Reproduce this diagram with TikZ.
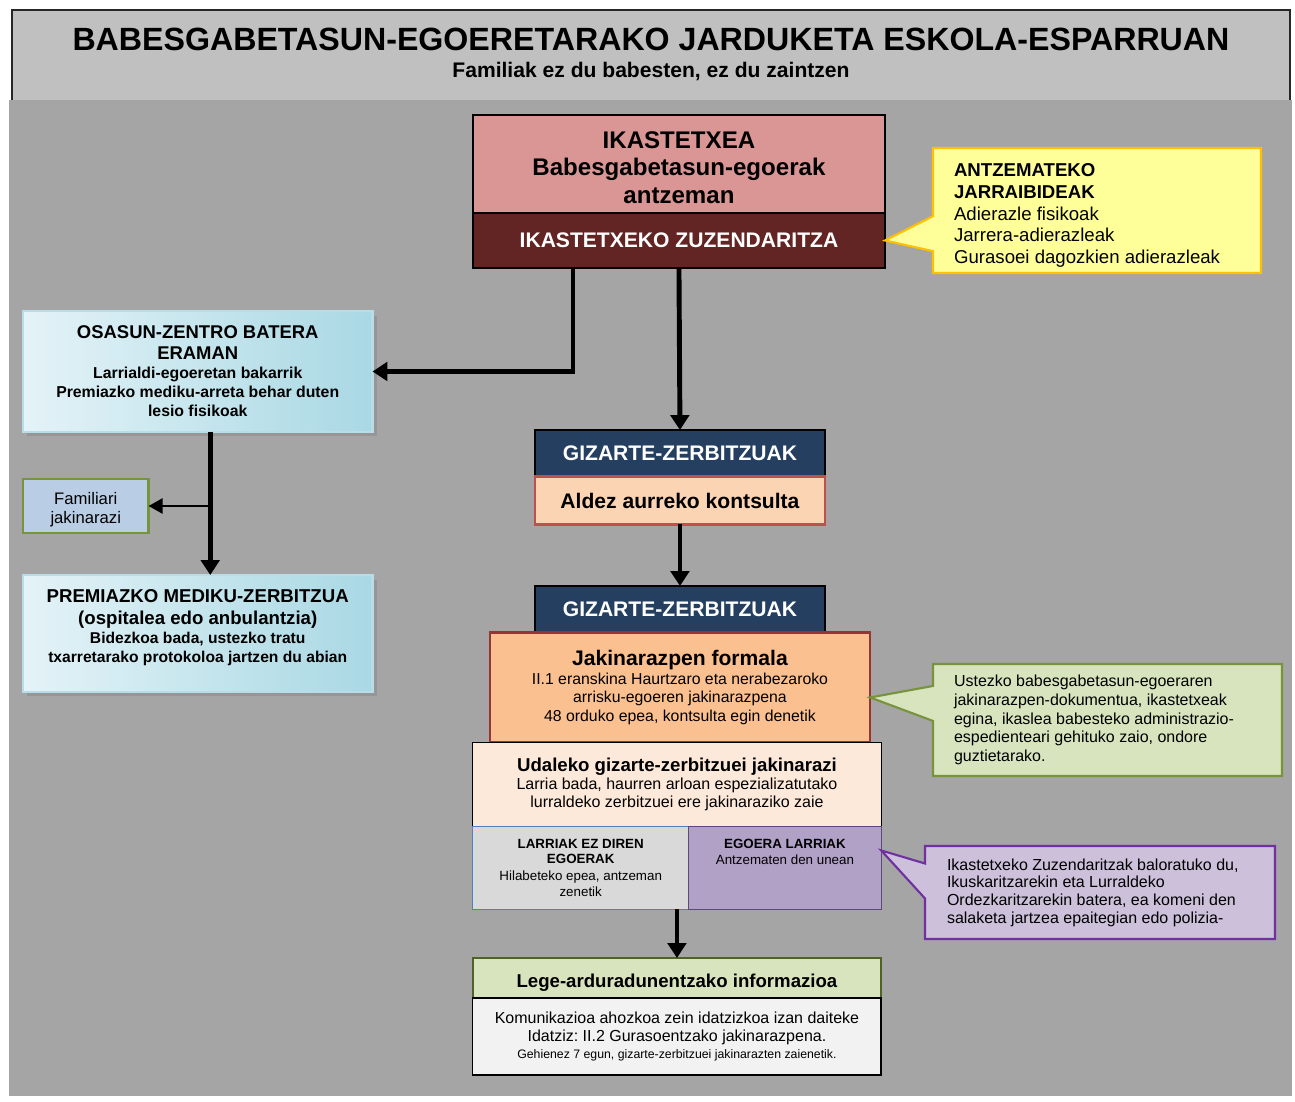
\documentclass[tikz,border=0pt]{standalone}
\usepackage{fontspec}
\setmainfont{Liberation Sans}
\usetikzlibrary{arrows.meta,positioning,shapes.callouts,shadows}
\frenchspacing

\newcommand{\fsz}[2]{\fontsize{#1}{#2}\selectfont}

\definecolor{bggray}{HTML}{A5A5A5}
\definecolor{panelgray}{HTML}{C0C0C0}
\definecolor{ikapink}{HTML}{D99694}
\definecolor{zuzred}{HTML}{632523}
\definecolor{navy}{HTML}{243F60}
\definecolor{peach}{HTML}{FBD4B4}
\definecolor{peachline}{HTML}{C0504D}
\definecolor{orange}{HTML}{FAC090}
\definecolor{orangeline}{HTML}{943634}
\definecolor{udalfill}{HTML}{FDE9D9}
\definecolor{lgray}{HTML}{D9D9D9}
\definecolor{blueline}{HTML}{4F81BD}
\definecolor{lilac}{HTML}{B2A1C7}
\definecolor{lilacline}{HTML}{5F497A}
\definecolor{legegreen}{HTML}{D7E4BD}
\definecolor{legeline}{HTML}{4F6228}
\definecolor{komunfill}{HTML}{F2F2F2}
\definecolor{famfill}{HTML}{B9CDE5}
\definecolor{famline}{HTML}{77933C}
\definecolor{notey}{HTML}{FFFF99}
\definecolor{noteyline}{HTML}{FFC000}
\definecolor{noteg}{HTML}{D7E4BD}
\definecolor{notegline}{HTML}{77933C}
\definecolor{notep}{HTML}{CCC0DA}
\definecolor{notepline}{HTML}{7030A0}
\definecolor{cyanlight}{HTML}{E4F3F7}
\definecolor{cyanmid}{HTML}{A9D8E4}
\definecolor{cyanline}{HTML}{B7DDE8}

\begin{document}
\begin{tikzpicture}[
    x=0.02cm, y=-0.02cm,
    box/.style={draw, line width=0.8pt, anchor=north west, align=flush center, inner xsep=3pt, inner ysep=2pt, outer sep=0pt},
    head/.style={box, fill=navy, text=white, minimum width=5.8cm, minimum height=0.93cm, font=\fsz{12}{14}\bfseries},
    cyanbox/.style={box, draw=cyanline, line width=1.2pt, left color=cyanlight, right color=cyanmid, minimum width=6.98cm, text width=6.78cm, drop shadow={shadow xshift=0.09cm, shadow yshift=-0.09cm, opacity=0.4}},
    note/.style={rectangle callout, line width=1.2pt, align=flush left, inner xsep=0.42cm, callout pointer width=0.7cm},
    arr/.style={-{Triangle[length=8.5pt,width=10.5pt]}, line width=2.8pt},
    arrthin/.style={-{Triangle[length=8pt,width=8.5pt]}, line width=1.5pt}
]
    \useasboundingbox (0,0) rectangle (1295,1102);
    % background and title panel
    \fill[bggray] (9,100) rectangle (1292,1096);
    \fill[panelgray] (12,10) rectangle (1290,100);
    \draw[line width=1pt, black!85] (12,100) -- (12,10) -- (1290,10) -- (1290,100);

    \node (title) at (651,39) {\fsz{18.3}{20}\bfseries BABESGABETASUN-EGOERETARAKO JARDUKETA ESKOLA-ESPARRUAN};
    \node (subtitle) at (651,71) {\fsz{12}{14}\bfseries Familiak ez du babesten, ez du zaintzen};

    % school
    \node[box, fill=ikapink, minimum width=8.24cm, minimum height=1.96cm, text width=8cm, text depth=27.6pt, font=\fsz{13.7}{15.8}\bfseries] (ika) at (473,115) {IKASTETXEA\\Babesgabetasun-egoerak\\antzeman};
    \node[box, below=0pt of ika, fill=zuzred, text=white, minimum width=8.24cm, minimum height=1.1cm, font=\fsz{12}{14}\bfseries] (zuz) {IKASTETXEKO ZUZENDARITZA};

    % health branch
    \node[cyanbox, minimum height=2.42cm] (osasun) at (23,311) {{\fsz{10.5}{12}\bfseries OSASUN-ZENTRO BATERA\\ERAMAN\par}{\fsz{9}{10.8}\bfseries Larrialdi-egoeretan bakarrik\\Premiazko mediku-arreta behar duten\\lesio fisikoak\par}};
    \node[box, fill=famfill, draw=famline, line width=1.2pt, minimum width=2.5cm, minimum height=1.08cm, text width=2.3cm, text depth=8.2pt, font=\fsz{9.5}{10.8}] (fam) at (23,479) {Familiari\\jakinarazi};
    \node[cyanbox, minimum height=2.34cm, text depth=42.8pt] (prem) at (23,575) {{\fsz{10.6}{12.5}\bfseries PREMIAZKO MEDIKU-ZERBITZUA\\(ospitalea edo anbulantzia)\par}{\fsz{8.9}{10.8}\bfseries Bidezkoa bada, ustezko tratu\\txarretarako protokoloa jartzen du abian\par}};

    % social services
    \node[head] (giz1) at (535,430) {GIZARTE-ZERBITZUAK};
    \node[box, below=0pt of giz1, fill=peach, draw=peachline, line width=1.2pt, minimum width=5.8cm, minimum height=0.96cm, font=\fsz{12}{14}\bfseries] (aldez) {Aldez aurreko kontsulta};
    \node[head] (giz2) at (535,586) {GIZARTE-ZERBITZUAK};
    \node[box, below=0pt of giz2, fill=orange, draw=orangeline, line width=1.2pt, minimum width=7.6cm, minimum height=2.2cm, text width=7.4cm] (jak) {{\fsz{12}{14}\bfseries Jakinarazpen formala\par}{\fsz{9}{10.5}II.1 eranskina Haurtzaro eta nerabezaroko\\arrisku-egoeren jakinarazpena\\48 orduko epea, kontsulta egin denetik\par}};
    \node[box, below=0pt of jak, xshift=-0.06cm, fill=udalfill, minimum width=8.16cm, minimum height=1.68cm, text width=7.96cm] (udal) {{\fsz{10.6}{12.5}\bfseries Udaleko gizarte-zerbitzuei jakinarazi\par}{\fsz{9.1}{10.3}Larria bada, haurren arloan espezializatutako\\lurraldeko zerbitzuei ere jakinaraziko zaie\par}};
    \node[box, anchor=north west, fill=lgray, draw=blueline, minimum width=4.32cm, minimum height=1.66cm, text width=4.1cm] (larez) at (udal.south west) {{\fsz{7.6}{9}\bfseries LARRIAK EZ DIREN\\EGOERAK\par}{\fsz{7.6}{9.4}Hilabeteko epea, antzeman\\zenetik\par}};
    \node[box, anchor=north east, fill=lilac, draw=lilacline, minimum width=3.84cm, minimum height=1.66cm, text width=3.64cm, text depth=27.9pt] (larri) at (udal.south east) {{\fsz{7.6}{9}\bfseries EGOERA LARRIAK\par}{\fsz{7.6}{9.2}Antzematen den unean\par}};

    % legal guardians
    \node[box, fill=legegreen, draw=legeline, line width=1.2pt, minimum width=8.16cm, minimum height=0.8cm, text height=11pt, text depth=0pt, font=\fsz{10.6}{12.5}\bfseries] (lege) at (473,958) {Lege-arduradunentzako informazioa};
    \node[box, below=0pt of lege, fill=komunfill, minimum width=8.16cm, minimum height=1.54cm, text width=7.96cm] (komun) {{\fsz{9.1}{10.3}Komunikazioa ahozkoa zein idatzizkoa izan daiteke\\Idatziz: II.2 Gurasoentzako jakinarazpena.\par}{\fsz{7}{9.6}Gehienez 7 egun, gizarte-zerbitzuei jakinarazten zaienetik.\par}};

    % arrows
    \draw[arr] ([xshift=-2.12cm]zuz.south) |- (osasun.east);
    \draw[arr] (zuz.south) -- (giz1.north);
    \draw[arr] (aldez.south) -- (giz2.north);
    \coordinate (osdown) at ([xshift=0.25cm]osasun.south);
    \draw[arr] (osdown) -- (osdown |- prem.north);
    \draw[arrthin] (osdown |- fam.east) -- (fam.east);
    \draw[arr] (lege.north |- larez.south) -- (lege.north);

    % callouts
    \node[note, fill=notey, draw=noteyline, minimum width=6.56cm, minimum height=2.5cm, text width=5.72cm, text depth=45.7pt, font=\fsz{10.6}{12.3}, callout absolute pointer={(zuz.east)}] (antz) at (1097,210.5) {\textbf{ANTZEMATEKO}\\\textbf{JARRAIBIDEAK}\\Adierazle fisikoak\\Jarrera-adierazleak\\Gurasoei dagozkien adierazleak};
    \node[note, fill=noteg, draw=notegline, minimum width=6.98cm, minimum height=2.24cm, text width=6.14cm, font=\fsz{9.1}{10.6}, callout absolute pointer={([yshift=-0.2cm]jak.east)}] (expnote) at (1107.5,720) {Ustezko babesgabetasun-egoeraren\\jakinarazpen-dokumentua, ikastetxeak\\egina, ikaslea babesteko administrazio-\\espedienteari gehituko zaio, ondore\\guztietarako.};
    \node[note, fill=notep, draw=notepline, minimum width=7cm, minimum height=1.86cm, text width=6.12cm, font=\fsz{9.1}{10.1}, callout absolute pointer={([yshift=-0.48cm]larri.north east)}] (salnote) at (1100,892.5) {Ikastetxeko Zuzendaritzak baloratuko du,\\Ikuskaritzarekin eta Lurraldeko\\Ordezkaritzarekin batera, ea komeni den\\salaketa jartzea epaitegian edo polizia-};
\end{tikzpicture}
\end{document}
